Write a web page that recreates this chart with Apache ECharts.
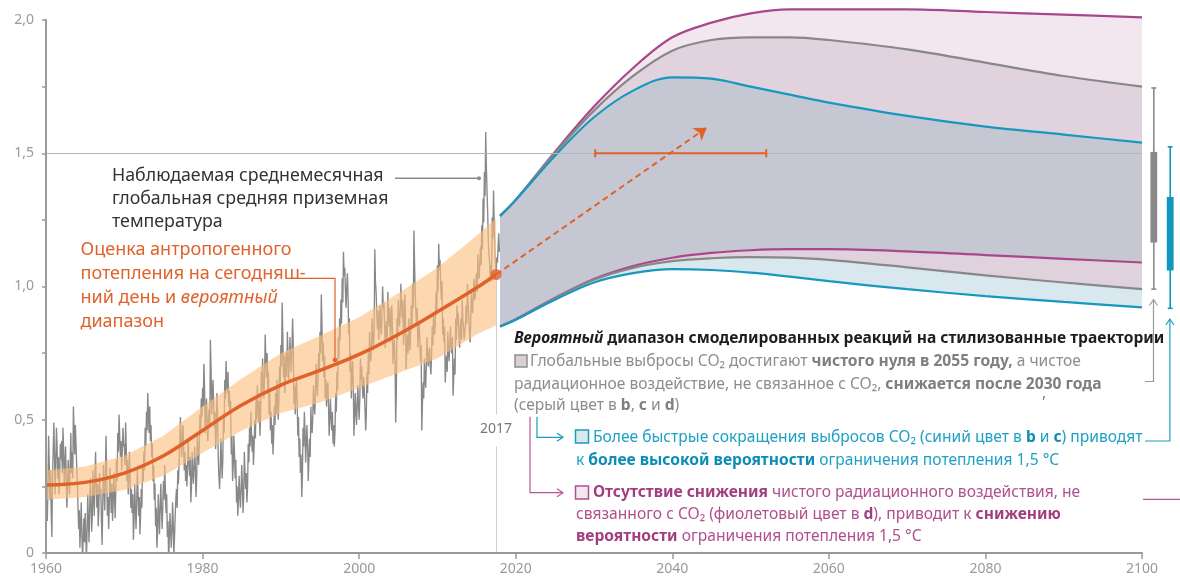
<!DOCTYPE html>
<html>
<head>
<meta charset="utf-8">
<script src="https://cdn.jsdelivr.net/npm/echarts@6.0.0/dist/echarts.min.js"></script>
<style>
  html, body { margin: 0; padding: 0; background: #fff; }
  #chart { width: 1180px; height: 579px; }
</style>
</head>
<body>
<div id="chart"></div>
<script>
const FONT = 'Noto Sans'

// observed monthly global mean surface temperature, from Jan 1960
const obsStartYear = 1960
const obsPerYear = 12
const obsValues = [
  0.36, 0.24, 0.12, 0.25, 0.44, 0.33, 0.20, 0.31, 0.15, 0.06, 0.28, 0.38, // 1960
  0.49, 0.37, 0.22, 0.34, 0.47, 0.40, 0.28, 0.36, 0.22, 0.30, 0.41, 0.35,
  0.42, 0.30, 0.47, 0.39, 0.25, 0.33, 0.40, 0.28, 0.17, 0.24, 0.35, 0.29,
  0.22, 0.33, 0.45, 0.30, 0.38, 0.28, 0.55, 0.46, 0.37, 0.48, 0.41, 0.33,
  0.27, 0.18, 0.09, 0.16, 0.02, 0.10, 0.19, 0.07, -0.02, 0.05, 0.13, 0.04,
  0.15, 0.06, -0.02, 0.09, 0.22, 0.12, 0.04, 0.16, 0.28, 0.19, 0.08, 0.14, // 1965
  0.31, 0.22, 0.14, 0.29, 0.38, 0.25, 0.17, 0.26, 0.10, 0.16, 0.30, 0.22,
  0.24, 0.12, 0.03, 0.18, 0.33, 0.25, 0.16, 0.29, 0.44, 0.30, 0.14, 0.21,
  0.09, 0.17, 0.32, 0.24, 0.15, 0.26, 0.12, 0.19, 0.30, 0.22, 0.13, 0.24,
  0.35, 0.27, 0.45, 0.38, 0.52, 0.44, 0.36, 0.42, 0.31, 0.39, 0.47, 0.40,
  0.41, 0.33, 0.49, 0.40, 0.27, 0.35, 0.22, 0.30, 0.38, 0.28, 0.17, 0.24, // 1970
  0.15, 0.22, 0.05, 0.13, 0.26, 0.17, 0.09, 0.19, 0.31, 0.23, 0.14, 0.21,
  0.07, 0.15, 0.24, 0.17, 0.33, 0.27, 0.38, 0.31, 0.47, 0.40, 0.53, 0.46,
  0.60, 0.52, 0.45, 0.55, 0.42, 0.48, 0.36, 0.41, 0.27, 0.33, 0.20, 0.26,
  0.10, 0.17, 0.02, 0.08, 0.22, 0.14, 0.07, 0.18, 0.26, 0.16, 0.09, 0.17,
  0.27, 0.20, 0.33, 0.24, 0.15, 0.22, 0.06, 0.12, -0.03, 0.05, 0.15, 0.09, // 1975
  0.02, 0.08, 0.19, 0.12, -0.01, 0.06, 0.14, 0.20, 0.24, 0.17, 0.31, 0.26,
  0.34, 0.41, 0.51, 0.43, 0.36, 0.45, 0.48, 0.39, 0.31, 0.38, 0.27, 0.33,
  0.25, 0.32, 0.43, 0.35, 0.29, 0.36, 0.19, 0.25, 0.38, 0.30, 0.26, 0.33,
  0.40, 0.31, 0.21, 0.29, 0.44, 0.37, 0.33, 0.41, 0.52, 0.45, 0.58, 0.51,
  0.62, 0.55, 0.71, 0.63, 0.45, 0.52, 0.58, 0.49, 0.42, 0.50, 0.54, 0.47, // 1980
  0.80, 0.69, 0.52, 0.60, 0.65, 0.56, 0.47, 0.53, 0.39, 0.45, 0.60, 0.52,
  0.36, 0.29, 0.24, 0.31, 0.43, 0.36, 0.28, 0.35, 0.52, 0.45, 0.65, 0.58,
  0.72, 0.65, 0.60, 0.68, 0.55, 0.61, 0.52, 0.57, 0.37, 0.44, 0.27, 0.33,
  0.44, 0.37, 0.28, 0.35, 0.19, 0.25, 0.14, 0.20, 0.29, 0.22, 0.17, 0.23,
  0.33, 0.26, 0.15, 0.21, 0.38, 0.31, 0.24, 0.30, 0.19, 0.25, 0.41, 0.34, // 1985
  0.47, 0.40, 0.53, 0.45, 0.38, 0.44, 0.33, 0.40, 0.50, 0.43, 0.58, 0.50,
  0.63, 0.56, 0.49, 0.57, 0.44, 0.52, 0.68, 0.60, 0.73, 0.64, 0.58, 0.66,
  0.82, 0.73, 0.66, 0.75, 0.61, 0.68, 0.52, 0.60, 0.46, 0.53, 0.41, 0.48,
  0.37, 0.44, 0.55, 0.48, 0.60, 0.52, 0.65, 0.57, 0.50, 0.58, 0.70, 0.62,
  0.78, 0.70, 0.94, 0.82, 0.66, 0.74, 0.60, 0.68, 0.75, 0.66, 0.83, 0.74, // 1990
  0.65, 0.72, 0.81, 0.73, 0.68, 0.76, 0.88, 0.79, 0.56, 0.63, 0.52, 0.60,
  0.65, 0.57, 0.44, 0.51, 0.36, 0.43, 0.30, 0.37, 0.21, 0.28, 0.47, 0.40,
  0.53, 0.46, 0.34, 0.41, 0.48, 0.40, 0.27, 0.35, 0.43, 0.36, 0.55, 0.47,
  0.45, 0.52, 0.63, 0.55, 0.52, 0.60, 0.71, 0.63, 0.59, 0.66, 0.75, 0.68,
  0.83, 0.75, 0.97, 0.86, 0.72, 0.79, 0.66, 0.74, 0.58, 0.65, 0.55, 0.62, // 1995
  0.64, 0.56, 0.44, 0.51, 0.58, 0.50, 0.46, 0.53, 0.41, 0.48, 0.40, 0.46,
  0.60, 0.53, 0.68, 0.61, 0.81, 0.73, 0.88, 0.80, 0.95, 0.86, 1.03, 0.94,
  1.13, 1.04, 1.07, 0.98, 0.92, 1.00, 1.05, 0.96, 0.82, 0.88, 0.68, 0.75,
  0.58, 0.66, 0.72, 0.64, 0.44, 0.52, 0.60, 0.53, 0.48, 0.56, 0.63, 0.55,
  0.50, 0.58, 0.73, 0.65, 0.70, 0.62, 0.58, 0.66, 0.61, 0.54, 0.46, 0.52, // 2000
  0.68, 0.60, 0.75, 0.67, 0.83, 0.74, 0.72, 0.79, 0.88, 0.80, 0.76, 0.83,
  1.14, 1.02, 0.98, 0.90, 0.84, 0.91, 0.80, 0.87, 0.93, 0.85, 0.82, 0.89,
  1.00, 0.92, 0.94, 0.86, 0.77, 0.84, 0.87, 0.80, 0.98, 0.89, 0.85, 0.92,
  0.79, 0.86, 0.93, 0.85, 0.71, 0.78, 0.80, 0.72, 0.49, 0.60, 0.88, 0.80,
  0.95, 0.87, 0.85, 0.92, 1.01, 0.92, 0.88, 0.95, 0.78, 0.85, 0.97, 0.89, // 2005
  0.69, 0.77, 0.82, 0.75, 0.88, 0.80, 0.76, 0.83, 0.93, 0.85, 1.01, 0.92,
  1.21, 1.08, 0.97, 0.90, 0.85, 0.92, 0.77, 0.84, 0.87, 0.80, 0.72, 0.78,
  0.46, 0.56, 0.64, 0.58, 0.73, 0.66, 0.62, 0.70, 0.81, 0.73, 0.70, 0.76,
  0.77, 0.70, 0.67, 0.74, 0.85, 0.78, 0.90, 0.83, 0.82, 0.89, 0.98, 0.90,
  1.08, 0.98, 1.16, 1.06, 1.10, 1.01, 0.95, 1.02, 0.82, 0.88, 0.79, 0.85, // 2010
  0.64, 0.71, 0.74, 0.68, 0.83, 0.76, 0.72, 0.79, 0.85, 0.77, 0.75, 0.81,
  0.59, 0.66, 0.73, 0.67, 0.88, 0.80, 0.93, 0.85, 0.90, 0.82, 0.77, 0.84,
  0.88, 0.80, 0.95, 0.87, 0.85, 0.80, 0.80, 0.86, 0.93, 0.86, 1.01, 0.93,
  0.90, 0.83, 0.79, 0.86, 0.98, 0.91, 0.90, 0.97, 1.03, 0.95, 0.96, 1.02,
  1.05, 0.98, 1.12, 1.04, 1.03, 1.09, 1.15, 1.08, 1.23, 1.14, 1.33, 1.24, // 2015
  1.43, 1.34, 1.58, 1.45, 1.36, 1.28, 1.17, 1.12, 1.09, 1.03, 1.08, 1.02,
  1.26, 1.18, 1.36, 1.24, 1.14, 1.08, 1.05, 1.11, 1.09, 1.15, 1.20, 1.13
]

// human-induced warming estimate and likely range
const trendYears = [1960, 1965, 1970, 1975, 1980, 1985, 1990, 1995, 2000, 2005, 2010, 2015, 2017.5]
const trendMid = [0.255, 0.265, 0.30, 0.365, 0.46, 0.555, 0.63, 0.685, 0.745, 0.82, 0.905, 0.995, 1.045]
const trendLow = [0.20, 0.21, 0.236, 0.29, 0.375, 0.46, 0.525, 0.565, 0.62, 0.675, 0.73, 0.82, 0.855]
const trendHigh = [0.31, 0.325, 0.365, 0.44, 0.55, 0.655, 0.75, 0.815, 0.885, 0.975, 1.07, 1.19, 1.255]

// modelled responses to stylized pathways
const projYears = [2018, 2020, 2025, 2030, 2035, 2040, 2045, 2050, 2055, 2060, 2070, 2080, 2090, 2100]
const blueLow = [0.85, 0.875, 0.95, 1.015, 1.05, 1.065, 1.062, 1.052, 1.037, 1.02, 0.99, 0.964, 0.942, 0.922]
const greyLow = [0.85, 0.876, 0.955, 1.025, 1.07, 1.095, 1.106, 1.11, 1.108, 1.10, 1.072, 1.042, 1.015, 0.99]
const purpleLow = [0.85, 0.877, 0.957, 1.028, 1.077, 1.108, 1.126, 1.136, 1.14, 1.14, 1.132, 1.118, 1.104, 1.09]
const blueHigh = [1.265, 1.325, 1.49, 1.635, 1.735, 1.785, 1.78, 1.75, 1.72, 1.69, 1.64, 1.60, 1.57, 1.54]
const greyHigh = [1.265, 1.325, 1.50, 1.66, 1.79, 1.885, 1.925, 1.935, 1.935, 1.925, 1.89, 1.84, 1.79, 1.75]
const purpleHigh = [1.265, 1.325, 1.505, 1.675, 1.82, 1.935, 1.99, 2.025, 2.04, 2.04, 2.04, 2.03, 2.02, 2.01]

// ranges at 2100: [min, box low, box high, max]
const rangeGrey = [0.99, 1.165, 1.505, 1.745]
const rangeBlue = [0.918, 1.06, 1.336, 1.524]

// years when 1.5 °C is reached (likely range), current point and trend arrow
const cross15 = [2030.15, 2052.0]
const level15 = 1.5
const nowPoint = [2017.5, 1.045]
const arrowTip = [2044.4, 1.596]

const yLabelValues = [0, 0.5, 1, 1.5, 2]

const C = {
  orange: '#e0622a',
  grey: '#888888',
  blue: '#1698bf',
  purple: '#a9478c',
  text: '#333333'
}

const pairs = (xs, ys) => xs.map((x, i) => [x, ys[i]])
const obsData = obsValues.map((v, i) => [obsStartYear + i / obsPerYear, v])

function rich(size, color, weight, style) {
  return { fontSize: size, fontFamily: FONT, fill: color, fontWeight: weight || 'normal', fontStyle: style || 'normal' }
}

function label(x, y, text, color, size, boldColor, more) {
  return {
    type: 'text', x: x, y: y, z: 100, silent: true,
    style: Object.assign({
      text: text,
      fill: color,
      fontSize: size,
      fontFamily: FONT,
      verticalAlign: 'middle',
      rich: {
        b: rich(size, boldColor || color, 'bold'),
        i: rich(size, color, 'normal', 'italic'),
        bi: rich(size, boldColor || color, 'bold', 'italic')
      }
    }, more || {})
  }
}

function poly(points, color, width) {
  return { type: 'polyline', z: 100, silent: true, shape: { points: points }, style: { stroke: color, lineWidth: width || 1.2, fill: null } }
}

// each curve fills down to the axis; painted from the top curve down
function projFill(values, color) {
  return {
    type: 'line', data: pairs(projYears, values), smooth: 0.35, symbol: 'none', clip: false,
    lineStyle: { opacity: 0 }, areaStyle: { color: color, opacity: 1 }, z: 1, silent: true
  }
}

function projLine(values, color) {
  return {
    type: 'line', data: pairs(projYears, values), smooth: 0.35, symbol: 'none', clip: false,
    lineStyle: { color: color, width: 2.2 }, z: 4, silent: true
  }
}

const LEG = 15.6

const chart = echarts.init(document.getElementById('chart'))

chart.setOption({
  animation: false,
  grid: { left: 46, right: 38, top: 20, bottom: 26 },
  xAxis: {
    type: 'value',
    min: 1960,
    max: 2100,
    interval: 20,
    z: 8,
    splitLine: { show: false },
    axisLine: { lineStyle: { color: '#9a9a9a', width: 2 } },
    axisTick: { length: 6, lineStyle: { color: '#9a9a9a', width: 1.5 } },
    axisLabel: { color: '#9a9a9a', fontSize: 14, fontFamily: FONT, margin: 9, formatter: v => String(v) }
  },
  yAxis: {
    type: 'value',
    min: 0,
    max: 2,
    interval: 0.25,
    z: 8,
    splitLine: { show: false },
    axisLine: { show: true, lineStyle: { color: '#9a9a9a', width: 2 } },
    axisTick: { show: true, length: 4, lineStyle: { color: '#9a9a9a', width: 1.5 } },
    axisLabel: {
      color: '#9a9a9a', fontSize: 14, fontFamily: FONT, margin: 12,
      formatter: v => yLabelValues.indexOf(v) === -1 ? '' : (v === 0 ? '0' : v.toFixed(1).replace('.', ','))
    }
  },
  series: [
    // projection fills
    projFill(purpleHigh, '#f3e7ef'),
    projFill(greyHigh, '#e0d3dd'),
    projFill(blueHigh, '#c5c7d3'),
    projFill(purpleLow, '#dfd2dc'),
    projFill(greyLow, '#d9e8ee'),
    projFill(blueLow, '#ffffff'),
    // 1.5 reference line and 2017 marker
    {
      type: 'line', data: [], z: 2, silent: true,
      markLine: {
        silent: true, symbol: 'none', label: { show: false },
        lineStyle: { color: '#b4b4b4', width: 1, type: 'solid' },
        data: [
          { yAxis: level15 },
          [{ coord: [nowPoint[0], nowPoint[1]], lineStyle: { color: '#cfcfcf' } }, { coord: [nowPoint[0], 0.52] }],
          [{ coord: [nowPoint[0], 0.40], lineStyle: { color: '#cfcfcf' } }, { coord: [nowPoint[0], 0] }]
        ]
      }
    },
    // observed temperature
    {
      type: 'line', data: obsData, symbol: 'none', z: 2, silent: true,
      lineStyle: { color: C.grey, width: 1.35 }
    },
    // likely range band
    {
      type: 'custom', z: 3, silent: true,
      data: trendYears.map((x, i) => [x, trendLow[i], trendHigh[i]]),
      encode: { x: 0, y: [1, 2] },
      renderItem: (params, api) => {
        if (params.dataIndex !== 0) return null
        const top = trendYears.map((x, i) => api.coord([x, trendHigh[i]]))
        const bottom = trendYears.map((x, i) => api.coord([x, trendLow[i]])).reverse()
        return {
          type: 'polygon',
          shape: { points: top.concat(bottom) },
          style: { fill: 'rgba(252, 190, 128, 0.62)' }
        }
      }
    },
    // human-induced warming
    {
      type: 'line', data: pairs(trendYears, trendMid), smooth: 0.4, symbol: 'none', z: 4, silent: true,
      lineStyle: { color: C.orange, width: 3.5 }
    },
    // projection outlines
    projLine(purpleHigh, C.purple),
    projLine(purpleLow, C.purple),
    projLine(greyHigh, C.grey),
    projLine(greyLow, C.grey),
    projLine(blueHigh, C.blue),
    projLine(blueLow, C.blue),
    // years of reaching 1.5
    {
      type: 'custom', z: 5, silent: true, clip: false,
      data: [[cross15[0], cross15[1], level15]],
      encode: { x: [0, 1], y: 2 },
      renderItem: (params, api) => {
        const a = api.coord([api.value(0), api.value(2)])
        const b = api.coord([api.value(1), api.value(2)])
        const st = { stroke: C.orange, lineWidth: 2 }
        return {
          type: 'group',
          children: [
            { type: 'line', shape: { x1: a[0], y1: a[1], x2: b[0], y2: b[1] }, style: st },
            { type: 'line', shape: { x1: a[0], y1: a[1] - 4, x2: a[0], y2: a[1] + 4 }, style: st },
            { type: 'line', shape: { x1: b[0], y1: b[1] - 4, x2: b[0], y2: b[1] + 4 }, style: st }
          ]
        }
      }
    },
    // ranges at 2100
    {
      type: 'custom', z: 5, silent: true, clip: false,
      data: [[2100].concat(rangeGrey), [2100].concat(rangeBlue)],
      encode: { x: 0, y: [1, 2, 3, 4] },
      renderItem: (params, api) => {
        const color = params.dataIndex === 0 ? '#8a8a8a' : '#0f97bd'
        const dx = params.dataIndex === 0 ? 11.8 : 28.2
        const lo = api.coord([api.value(0), api.value(1)])
        const q1 = api.coord([api.value(0), api.value(2)])
        const q3 = api.coord([api.value(0), api.value(3)])
        const hi = api.coord([api.value(0), api.value(4)])
        const x = lo[0] + dx
        const st = { stroke: color, lineWidth: 1.6 }
        return {
          type: 'group',
          children: [
            { type: 'line', shape: { x1: x, y1: hi[1], x2: x, y2: lo[1] }, style: st },
            { type: 'line', shape: { x1: x - 2.5, y1: hi[1], x2: x + 2.5, y2: hi[1] }, style: st },
            { type: 'line', shape: { x1: x - 2.5, y1: lo[1], x2: x + 2.5, y2: lo[1] }, style: st },
            { type: 'rect', shape: { x: x - 3.4, y: q3[1], width: 6.8, height: q1[1] - q3[1] }, style: { fill: color } }
          ]
        }
      }
    },
    // current point and dashed trend arrow
    {
      type: 'scatter', data: [nowPoint], symbolSize: 11, z: 6, silent: true,
      itemStyle: { color: C.orange },
      markLine: {
        silent: true,
        symbol: ['none', 'arrow'],
        symbolSize: 12,
        label: { show: false },
        lineStyle: { color: C.orange, width: 2, type: [6, 4] },
        data: [[{ coord: nowPoint }, { coord: arrowTip }]]
      }
    }
  ],
  graphic: [
    // left annotations
    {
      type: 'text', x: 112, y: 164.5, z: 100, silent: true,
      style: {
        text: 'Наблюдаемая среднемесячная\nглобальная средняя приземная\nтемпература',
        fill: C.text, fontSize: 17.8, fontFamily: FONT, lineHeight: 23
      }
    },
    poly([[395, 178.3], [479, 178.3]], '#8a8a8a', 1.5),
    { type: 'circle', z: 100, silent: true, shape: { cx: 479, cy: 178.3, r: 2 }, style: { fill: '#8a8a8a' } },
    {
      type: 'text', x: 80.5, y: 238, z: 100, silent: true,
      style: {
        text: 'Оценка антропогенного\nпотепления на сегодняш-\nний день и {i|вероятный}\nдиапазон',
        fill: C.orange, fontSize: 18, fontFamily: FONT, lineHeight: 24,
        rich: { i: Object.assign(rich(18, C.orange, 'normal', 'italic'), { lineHeight: 24 }) }
      }
    },
    poly([[292, 278.3], [335, 278.3], [335, 360]], C.orange, 1.2),
    { type: 'circle', z: 100, silent: true, shape: { cx: 335, cy: 360, r: 2.3 }, style: { fill: C.orange } },
    // 2017
    label(496, 429, '2017', '#777777', 14, null, { align: 'center' }),
    // legend
    label(514, 339, '{bi|Вероятный} диапазон смоделированных реакций на стилизованные траектории', '#1e1e1e', LEG, '#1e1e1e', { fontWeight: 'bold' }),
    { type: 'rect', z: 100, silent: true, shape: { x: 515, y: 355, width: 12, height: 12 }, style: { fill: '#dacfd7', stroke: '#8f8f8f', lineWidth: 1.5 } },
    label(530, 362, 'Глобальные выбросы CO₂ достигают {b|чистого нуля в 2055 году,} а чистое', '#8d8d8d', LEG, '#7f7f7f'),
    label(514, 384.5, 'радиационное воздействие, не связанное с CO₂, {b|снижается после 2030 года}', '#8d8d8d', LEG, '#7f7f7f'),
    label(514, 405.5, '(серый цвет в {b|b}, {b|c} и {b|d})', '#8d8d8d', LEG, '#7f7f7f'),
    label(1042, 394, ',', '#7f7f7f', LEG, '#7f7f7f'),
    { type: 'rect', z: 100, silent: true, shape: { x: 575.5, y: 430, width: 13, height: 13 }, style: { fill: '#dbe9ee', stroke: '#1a9bc0', lineWidth: 1.5 } },
    label(593, 437.5, 'Более быстрые сокращения выбросов CO₂ (синий цвет в {b|b} и {b|c}) приводят', '#1fa0c4', LEG, '#0d8db3'),
    label(576, 461, 'к {b|более высокой вероятности} ограничения потепления 1,5 °C', '#1fa0c4', LEG, '#0d8db3'),
    { type: 'rect', z: 100, silent: true, shape: { x: 575.5, y: 486, width: 13, height: 13 }, style: { fill: '#f3e6ef', stroke: '#b0518f', lineWidth: 1.5 } },
    label(593, 493, '{b|Отсутствие снижения} чистого радиационного воздействия, не', '#b0508e', LEG, '#a23e7f'),
    label(576, 515, 'связанного с CO₂ (фиолетовый цвет в {b|d}), приводит к {b|снижению}', '#b0508e', LEG, '#a23e7f'),
    label(576, 536.5, '{b|вероятности} ограничения потепления 1,5 °C', '#b0508e', LEG, '#a23e7f'),
    // connectors from legend
    poly([[537, 416.7], [537, 437.3], [562, 437.3]], '#1a9bc0', 1.2),
    poly([[557, 433.3], [563, 437.3], [557, 441.3]], '#1a9bc0', 1.2),
    poly([[530, 416.7], [530, 492.7], [562, 492.7]], '#b5588f', 1.2),
    poly([[557, 488.7], [563, 492.7], [557, 496.7]], '#b5588f', 1.2),
    poly([[1145, 381.5], [1153.5, 381.5], [1153.5, 300]], '#9a9a9a', 1.2),
    poly([[1149.5, 305.5], [1153.5, 299.5], [1157.5, 305.5]], '#9a9a9a', 1.2),
    poly([[1145, 441], [1169.9, 441], [1169.9, 319]], '#1a9bc0', 1.2),
    poly([[1165.9, 325], [1169.9, 319], [1173.9, 325]], '#1a9bc0', 1.2),
    poly([[1143, 499.3], [1180, 499.3]], '#b5588f', 1.2)
  ]
})
</script>
</body>
</html>
